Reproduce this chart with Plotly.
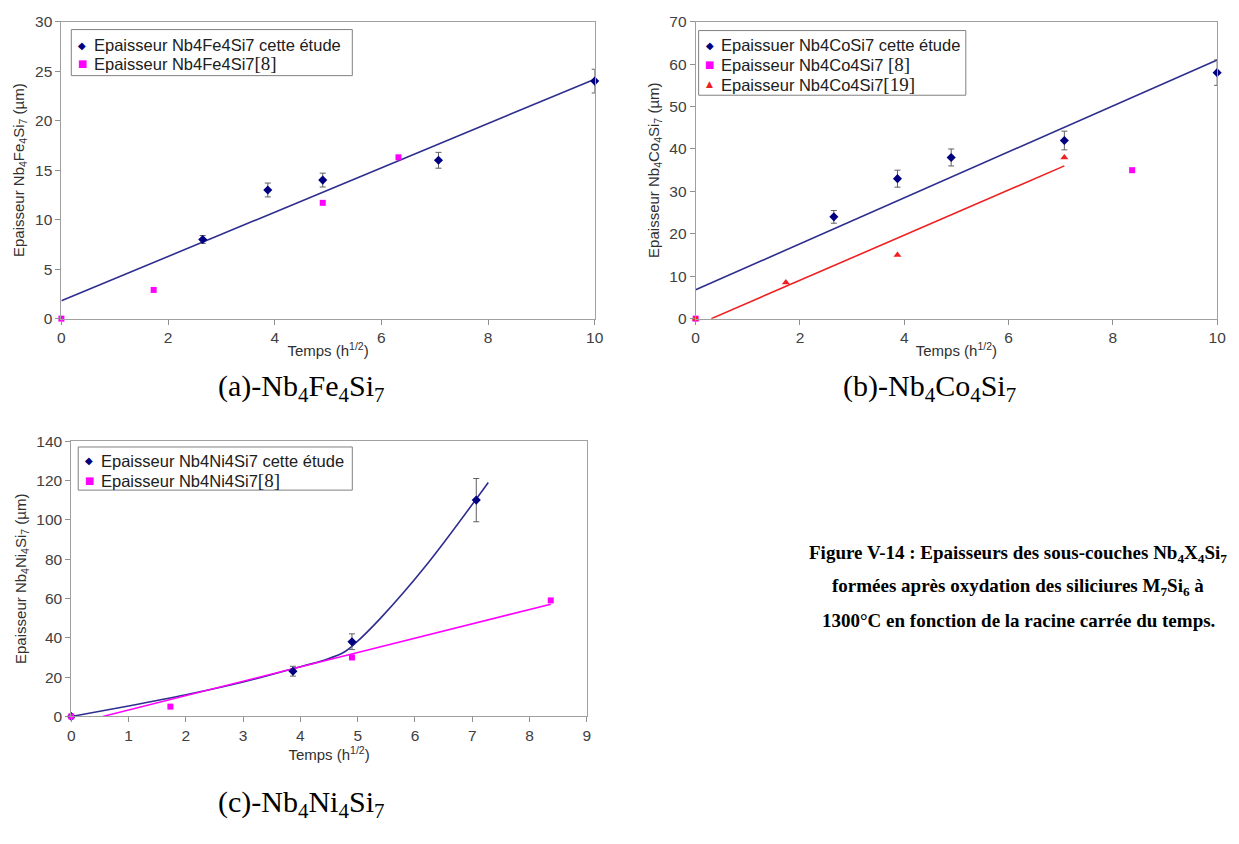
import numpy as np
import plotly.graph_objects as go

# ---------------- data ----------------
# (a) Nb4Fe4Si7
a_etude_x = [2.65, 3.87, 4.90, 7.07, 10.0]
a_etude_y = [8.0, 13.0, 14.0, 16.0, 24.0]
a_etude_err = [0.4, 0.7, 0.7, 0.8, 1.2]
a_ref8_x = [0.0, 1.73, 4.90, 6.32]
a_ref8_y = [0.0, 2.9, 11.7, 16.3]
a_fit = dict(slope=2.24, intercept=1.8, x0=0.0, x1=10.0)
a_legend = ["Epaisseur Nb4Fe4Si7 cette étude", "Epaisseur Nb4Fe4Si7[8]"]

# (b) Nb4Co4Si7
b_etude_x = [2.65, 3.87, 4.90, 7.07, 10.0]
b_etude_y = [24.0, 33.0, 38.0, 42.0, 58.0]
b_etude_err = [1.5, 2.0, 2.0, 2.2, 3.0]
b_ref8_x = [0.0, 8.37]
b_ref8_y = [0.0, 35.0]
b_ref19_x = [0.0, 1.73, 3.87, 7.07]
b_ref19_y = [0.0, 8.5, 15.0, 38.0]
b_fit_etude = dict(slope=5.42, intercept=6.8, x0=0.0, x1=10.0)
b_fit_ref19 = dict(slope=5.32, intercept=-1.6, x0=0.30, x1=7.07)
b_legend = ["Epaissuer Nb4CoSi7 cette étude", "Epaisseur Nb4Co4Si7 [8]",
            "Epaisseur Nb4Co4Si7[19]"]

# (c) Nb4Ni4Si7
c_etude_x = [0.0, 3.87, 4.90, 7.07]
c_etude_y = [0.0, 23.0, 38.0, 110.0]
c_etude_err = [0.0, 2.5, 4.0, 11.0]
c_ref8_x = [0.0, 1.73, 4.90, 8.37]
c_ref8_y = [0.0, 5.0, 30.0, 59.0]
c_curve_x = [0.0, 1.0, 2.0, 3.0, 3.87, 4.45, 4.75, 4.95, 5.4, 6.2, 7.28]
c_curve_y = [0.0, 5.3, 11.0, 17.5, 24.3, 29.0, 32.5, 37.0, 50.0, 77.0, 119.0]
c_fit_ref8 = dict(slope=7.30, intercept=-4.0, x0=0.55, x1=8.37)
c_legend = ["Epaisseur Nb4Ni4Si7 cette étude", "Epaisseur Nb4Ni4Si7[8]"]

# ---------------- style ----------------
NAVY = "#000080"
LINE_BLUE = "#2E2E8F"
MAGENTA = "#FF00FF"
RED = "#F02020"
SANS = "Liberation Sans, Arial, sans-serif"
SERIF = "Liberation Serif, Times New Roman, serif"
W, H = 1239, 844


def px_x(p):
    return p / W


def px_y(p):
    return 1 - p / H


def fit_line(f):
    xs = np.array([f["x0"], f["x1"]])
    return xs, f["slope"] * xs + f["intercept"]


fig = go.Figure()


def add_points(x, y, err, name, symbol, color, size, xa, ya):
    fig.add_trace(go.Scatter(
        x=x, y=y, mode="markers", name=name, showlegend=False,
        marker=dict(symbol=symbol, color=color, size=size, line=dict(width=0)),
        error_y=(dict(type="data", array=err, color="#606060", thickness=1, width=3)
                 if err is not None else None),
        xaxis=xa, yaxis=ya, cliponaxis=False))


def add_line(x, y, color, xa, ya, shape="linear"):
    fig.add_trace(go.Scatter(
        x=x, y=y, mode="lines", line=dict(color=color, width=1.6, shape=shape),
        showlegend=False, xaxis=xa, yaxis=ya, hoverinfo="skip"))


# (a)
xs, ys = fit_line(a_fit)
add_line(xs, ys, LINE_BLUE, "x", "y")
add_points(a_etude_x, a_etude_y, a_etude_err, a_legend[0], "diamond", NAVY, 7, "x", "y")
add_points(a_ref8_x, a_ref8_y, None, a_legend[1], "square", MAGENTA, 6, "x", "y")

# (b)
xs, ys = fit_line(b_fit_etude)
add_line(xs, ys, LINE_BLUE, "x2", "y2")
xs, ys = fit_line(b_fit_ref19)
add_line(xs, ys, RED, "x2", "y2")
add_points(b_etude_x, b_etude_y, b_etude_err, b_legend[0], "diamond", NAVY, 7, "x2", "y2")
add_points(b_ref8_x, b_ref8_y, None, b_legend[1], "square", MAGENTA, 6, "x2", "y2")
add_points(b_ref19_x, b_ref19_y, None, b_legend[2], "triangle-up", RED, 7, "x2", "y2")

# (c)
add_line(c_curve_x, c_curve_y, LINE_BLUE, "x3", "y3", shape="spline")
xs, ys = fit_line(c_fit_ref8)
add_line(xs, ys, MAGENTA, "x3", "y3")
add_points(c_etude_x, c_etude_y, c_etude_err, c_legend[0], "diamond", NAVY, 7, "x3", "y3")
add_points(c_ref8_x, c_ref8_y, None, c_legend[1], "square", MAGENTA, 6, "x3", "y3")


def xaxis(dom, rng, dtick, anchor):
    return dict(domain=dom, range=rng, dtick=dtick, anchor=anchor,
                showgrid=False, zeroline=False, showline=True, linecolor="#A0A0A0",
                linewidth=1, mirror=True, ticks="outside", ticklen=5, tickcolor="#909090",
                tickfont=dict(family=SANS, size=15.5, color="#404040"),
                title=dict(text="Temps (h<sup>1/2</sup>)", standoff=0,
                           font=dict(family=SANS, size=15, color="#303030")))


def yaxis(dom, rng, dtick, anchor, title):
    return dict(domain=dom, range=rng, dtick=dtick, anchor=anchor,
                showgrid=False, zeroline=False, showline=True, linecolor="#A0A0A0",
                linewidth=1, mirror=True, ticks="outside", ticklen=5, tickcolor="#909090",
                tickfont=dict(family=SANS, size=15.5, color="#404040"),
                title=dict(text=title, standoff=6,
                           font=dict(family=SANS, size=15, color="#303030")))


fig.update_layout(
    width=W, height=H, margin=dict(l=0, r=0, t=0, b=0),
    paper_bgcolor="white", plot_bgcolor="white", showlegend=False,
    xaxis=xaxis([px_x(58), px_x(597)], [0, 10], 2, "y"),
    yaxis=yaxis([px_y(316), px_y(13)], [0, 30], 5, "x",
                "Epaisseur Nb<sub>4</sub>Fe<sub>4</sub>Si<sub>7</sub> (µm)"),
    xaxis2=xaxis([px_x(699), px_x(1226)], [0, 10], 2, "y2"),
    yaxis2=yaxis([px_y(316), px_y(13)], [0, 70], 10, "x2",
                 "Epaisseur Nb<sub>4</sub>Co<sub>4</sub>Si<sub>7</sub> (µm)"),
    xaxis3=xaxis([px_x(68), px_x(589)], [0, 9], 1, "y3"),
    yaxis3=yaxis([px_y(722), px_y(441)], [0, 140], 20, "x3",
                 "Epaisseur Nb<sub>4</sub>Ni<sub>4</sub>Si<sub>7</sub> (µm)"),
)


# ---- Excel-like legends: framed box, small glyph symbols, text ----
def ref_fmt(label):
    # render the bracketed reference in the serif font, like the original
    if "[" in label:
        head, tail = label.split("[", 1)
        return head + "<span style='font-family:Liberation Serif;font-size:19px'>[" + tail + "</span>"
    return label


def add_legend(box, rows, labels, glyphs):
    x0, x1, y0, y1 = box
    fig.add_shape(type="rect", xref="paper", yref="paper",
                  x0=px_x(x0), x1=px_x(x1), y0=px_y(y1), y1=px_y(y0),
                  line=dict(color="#808080", width=1), fillcolor="white", layer="above")
    for ry, lab, (g, col, gs) in zip(rows, labels, glyphs):
        fig.add_annotation(text=f"<span style='color:{col}'>{g}</span>",
                           x=px_x(x0 + 11), y=px_y(ry), xref="paper", yref="paper",
                           xanchor="center", yanchor="middle", showarrow=False,
                           font=dict(family="DejaVu Sans", size=gs, color=col))
        fig.add_annotation(text=ref_fmt(lab), x=px_x(x0 + 21), y=px_y(ry),
                           xref="paper", yref="paper", xanchor="left", yanchor="middle",
                           showarrow=False,
                           font=dict(family=SANS, size=16.5, color="#202020"))


G_DIAM = ("◆", NAVY, 10)
G_SQ = ("■", MAGENTA, 10)
G_TRI = ("▲", RED, 9)

add_legend((68, 352, 21, 68), [37, 56], a_legend, [G_DIAM, G_SQ])
add_legend((702, 972, 22, 88), [37, 57, 77], b_legend, [G_DIAM, G_SQ, G_TRI])
add_legend((75, 352, 447, 491), [461, 481], c_legend, [G_DIAM, G_SQ])

captions = [
    ("(a)-Nb<sub>4</sub>Fe<sub>4</sub>Si<sub>7</sub>", 300, 387, 30, False),
    ("(b)-Nb<sub>4</sub>Co<sub>4</sub>Si<sub>7</sub>", 935, 387, 30, False),
    ("(c)-Nb<sub>4</sub>Ni<sub>4</sub>Si<sub>7</sub>", 300, 811, 30, False),
    ("Figure V-14 : Epaisseurs des sous-couches Nb<sub>4</sub>X<sub>4</sub>Si<sub>7</sub>", 1025, 556, 19, True),
    ("formées après oxydation des siliciures M<sub>7</sub>Si<sub>6</sub> à", 1025, 590, 19, True),
    ("1300°C en fonction de la racine carrée du temps.", 1025, 624, 19, True),
]
for text, cx, cy, size, bold in captions:
    fig.add_annotation(
        text=f"<b>{text}</b>" if bold else text,
        x=px_x(cx), y=px_y(cy), xref="paper", yref="paper",
        xanchor="center", yanchor="middle", showarrow=False,
        font=dict(family=SERIF, size=size, color="black"))

fig.write_html(
    "out.html",
    config={"displayModeBar": False},
    post_script="document.body.style.margin='0';document.body.style.overflow='hidden';",
)
